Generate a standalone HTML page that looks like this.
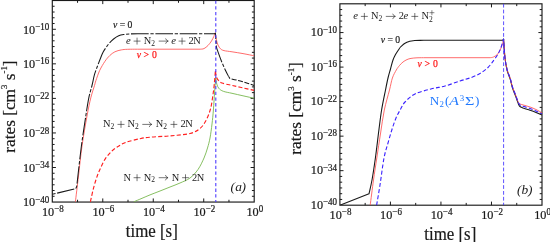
<!DOCTYPE html>
<html><head><meta charset="utf-8"><title>rates</title>
<style>
html,body{margin:0;padding:0;background:#fff;}
body{width:550px;height:242px;overflow:hidden;}
svg{display:block;will-change:transform;}
text{font-family:"Liberation Serif",serif;fill:#1a1a1a;}
.tk{font-size:12.9px;stroke:#1a1a1a;stroke-width:0.22px;}
.sp{font-size:9.5px;}
.ax{font-size:17.4px;stroke:#1a1a1a;stroke-width:0.2px;}
.axs{font-size:8.8px;}
.axx{font-size:17.8px;}
.m{font-size:10.8px;}
.m2{font-size:13.4px;}
.sb{font-size:7.6px;}
.sb2{font-size:9.4px;}
.i{font-style:italic;}
.pl{font-size:13.6px;}
</style></head><body>
<svg width="550" height="242" viewBox="0 0 550 242">
<rect x="0" y="0" width="550" height="242" fill="#fff"/>
<rect x="52.30" y="0.50" width="201.90" height="201.55" fill="none" stroke="#1a1a1a" stroke-width="1.15"/>
<path d="M77.54,202.05 v-2.30 M77.54,0.50 v2.30 M102.77,202.05 v-3.60 M102.77,0.50 v3.60 M128.01,202.05 v-2.30 M128.01,0.50 v2.30 M153.25,202.05 v-3.60 M153.25,0.50 v3.60 M178.49,202.05 v-2.30 M178.49,0.50 v2.30 M203.72,202.05 v-3.60 M203.72,0.50 v3.60 M228.96,202.05 v-2.30 M228.96,0.50 v2.30 M52.30,196.29 h2.30 M254.20,196.29 h-2.30 M52.30,190.53 h2.30 M254.20,190.53 h-2.30 M52.30,184.77 h2.30 M254.20,184.77 h-2.30 M52.30,179.02 h2.30 M254.20,179.02 h-2.30 M52.30,173.26 h2.30 M254.20,173.26 h-2.30 M52.30,167.50 h3.60 M254.20,167.50 h-3.60 M52.30,161.74 h2.30 M254.20,161.74 h-2.30 M52.30,155.98 h2.30 M254.20,155.98 h-2.30 M52.30,150.22 h2.30 M254.20,150.22 h-2.30 M52.30,144.46 h2.30 M254.20,144.46 h-2.30 M52.30,138.71 h2.30 M254.20,138.71 h-2.30 M52.30,132.95 h3.60 M254.20,132.95 h-3.60 M52.30,127.19 h2.30 M254.20,127.19 h-2.30 M52.30,121.43 h2.30 M254.20,121.43 h-2.30 M52.30,115.67 h2.30 M254.20,115.67 h-2.30 M52.30,109.91 h2.30 M254.20,109.91 h-2.30 M52.30,104.15 h2.30 M254.20,104.15 h-2.30 M52.30,98.40 h3.60 M254.20,98.40 h-3.60 M52.30,92.64 h2.30 M254.20,92.64 h-2.30 M52.30,86.88 h2.30 M254.20,86.88 h-2.30 M52.30,81.12 h2.30 M254.20,81.12 h-2.30 M52.30,75.36 h2.30 M254.20,75.36 h-2.30 M52.30,69.60 h2.30 M254.20,69.60 h-2.30 M52.30,63.84 h3.60 M254.20,63.84 h-3.60 M52.30,58.09 h2.30 M254.20,58.09 h-2.30 M52.30,52.33 h2.30 M254.20,52.33 h-2.30 M52.30,46.57 h2.30 M254.20,46.57 h-2.30 M52.30,40.81 h2.30 M254.20,40.81 h-2.30 M52.30,35.05 h2.30 M254.20,35.05 h-2.30 M52.30,29.29 h3.60 M254.20,29.29 h-3.60 M52.30,23.53 h2.30 M254.20,23.53 h-2.30 M52.30,17.78 h2.30 M254.20,17.78 h-2.30 M52.30,12.02 h2.30 M254.20,12.02 h-2.30 M52.30,6.26 h2.30 M254.20,6.26 h-2.30" fill="none" stroke="#1a1a1a" stroke-width="1"/>

<rect x="339.90" y="3.80" width="202.10" height="201.40" fill="none" stroke="#1a1a1a" stroke-width="1.15"/>
<path d="M365.16,205.20 v-2.30 M365.16,3.80 v2.30 M390.42,205.20 v-3.60 M390.42,3.80 v3.60 M415.69,205.20 v-2.30 M415.69,3.80 v2.30 M440.95,205.20 v-3.60 M440.95,3.80 v3.60 M466.21,205.20 v-2.30 M466.21,3.80 v2.30 M491.48,205.20 v-3.60 M491.48,3.80 v3.60 M516.74,205.20 v-2.30 M516.74,3.80 v2.30 M339.90,199.45 h2.30 M542.00,199.45 h-2.30 M339.90,193.69 h2.30 M542.00,193.69 h-2.30 M339.90,187.94 h2.30 M542.00,187.94 h-2.30 M339.90,182.18 h2.30 M542.00,182.18 h-2.30 M339.90,176.43 h2.30 M542.00,176.43 h-2.30 M339.90,170.67 h3.60 M542.00,170.67 h-3.60 M339.90,164.92 h2.30 M542.00,164.92 h-2.30 M339.90,159.17 h2.30 M542.00,159.17 h-2.30 M339.90,153.41 h2.30 M542.00,153.41 h-2.30 M339.90,147.66 h2.30 M542.00,147.66 h-2.30 M339.90,141.90 h2.30 M542.00,141.90 h-2.30 M339.90,136.15 h3.60 M542.00,136.15 h-3.60 M339.90,130.39 h2.30 M542.00,130.39 h-2.30 M339.90,124.64 h2.30 M542.00,124.64 h-2.30 M339.90,118.89 h2.30 M542.00,118.89 h-2.30 M339.90,113.13 h2.30 M542.00,113.13 h-2.30 M339.90,107.38 h2.30 M542.00,107.38 h-2.30 M339.90,101.62 h3.60 M542.00,101.62 h-3.60 M339.90,95.87 h2.30 M542.00,95.87 h-2.30 M339.90,90.11 h2.30 M542.00,90.11 h-2.30 M339.90,84.36 h2.30 M542.00,84.36 h-2.30 M339.90,78.61 h2.30 M542.00,78.61 h-2.30 M339.90,72.85 h2.30 M542.00,72.85 h-2.30 M339.90,67.10 h3.60 M542.00,67.10 h-3.60 M339.90,61.34 h2.30 M542.00,61.34 h-2.30 M339.90,55.59 h2.30 M542.00,55.59 h-2.30 M339.90,49.83 h2.30 M542.00,49.83 h-2.30 M339.90,44.08 h2.30 M542.00,44.08 h-2.30 M339.90,38.33 h2.30 M542.00,38.33 h-2.30 M339.90,32.57 h3.60 M542.00,32.57 h-3.60 M339.90,26.82 h2.30 M542.00,26.82 h-2.30 M339.90,21.06 h2.30 M542.00,21.06 h-2.30 M339.90,15.31 h2.30 M542.00,15.31 h-2.30 M339.90,9.55 h2.30 M542.00,9.55 h-2.30" fill="none" stroke="#1a1a1a" stroke-width="1"/>

<text class="tk" transform="translate(52.90,215.70) scale(0.950,1)" text-anchor="middle">10<tspan class="sp" dy="-3.8">−8</tspan></text>
<text class="tk" transform="translate(103.37,215.70) scale(0.950,1)" text-anchor="middle">10<tspan class="sp" dy="-3.8">−6</tspan></text>
<text class="tk" transform="translate(153.85,215.70) scale(0.950,1)" text-anchor="middle">10<tspan class="sp" dy="-3.8">−4</tspan></text>
<text class="tk" transform="translate(204.32,215.70) scale(0.950,1)" text-anchor="middle">10<tspan class="sp" dy="-3.8">−2</tspan></text>
<text class="tk" transform="translate(254.80,215.70) scale(0.950,1)" text-anchor="middle">10<tspan class="sp" dy="-3.8">0</tspan></text>
<text class="tk" transform="translate(49.30,33.65) scale(0.950,1)" text-anchor="end">10<tspan class="sp" dy="-3.8">−10</tspan></text>
<text class="tk" transform="translate(49.30,68.20) scale(0.950,1)" text-anchor="end">10<tspan class="sp" dy="-3.8">−16</tspan></text>
<text class="tk" transform="translate(49.30,102.76) scale(0.950,1)" text-anchor="end">10<tspan class="sp" dy="-3.8">−22</tspan></text>
<text class="tk" transform="translate(49.30,137.31) scale(0.950,1)" text-anchor="end">10<tspan class="sp" dy="-3.8">−28</tspan></text>
<text class="tk" transform="translate(49.30,171.86) scale(0.950,1)" text-anchor="end">10<tspan class="sp" dy="-3.8">−34</tspan></text>
<text class="tk" transform="translate(49.30,206.41) scale(0.950,1)" text-anchor="end">10<tspan class="sp" dy="-3.8">−40</tspan></text>

<text class="tk" transform="translate(340.50,219.10) scale(0.950,1)" text-anchor="middle">10<tspan class="sp" dy="-3.8">−8</tspan></text>
<text class="tk" transform="translate(391.02,219.10) scale(0.950,1)" text-anchor="middle">10<tspan class="sp" dy="-3.8">−6</tspan></text>
<text class="tk" transform="translate(441.55,219.10) scale(0.950,1)" text-anchor="middle">10<tspan class="sp" dy="-3.8">−4</tspan></text>
<text class="tk" transform="translate(492.08,219.10) scale(0.950,1)" text-anchor="middle">10<tspan class="sp" dy="-3.8">−2</tspan></text>
<text class="tk" transform="translate(542.60,219.10) scale(0.950,1)" text-anchor="middle">10<tspan class="sp" dy="-3.8">0</tspan></text>
<text class="tk" transform="translate(337.10,36.37) scale(0.950,1)" text-anchor="end">10<tspan class="sp" dy="-3.8">−10</tspan></text>
<text class="tk" transform="translate(337.10,70.90) scale(0.950,1)" text-anchor="end">10<tspan class="sp" dy="-3.8">−16</tspan></text>
<text class="tk" transform="translate(337.10,105.42) scale(0.950,1)" text-anchor="end">10<tspan class="sp" dy="-3.8">−22</tspan></text>
<text class="tk" transform="translate(337.10,139.95) scale(0.950,1)" text-anchor="end">10<tspan class="sp" dy="-3.8">−28</tspan></text>
<text class="tk" transform="translate(337.10,174.47) scale(0.950,1)" text-anchor="end">10<tspan class="sp" dy="-3.8">−34</tspan></text>
<text class="tk" transform="translate(337.10,209.00) scale(0.950,1)" text-anchor="end">10<tspan class="sp" dy="-3.8">−40</tspan></text>

<text class="ax axx" x="125.8" y="236.8" textLength="52.0" lengthAdjust="spacingAndGlyphs">time [s]</text>
<text class="ax axx" x="424.3" y="239.6" textLength="52.0" lengthAdjust="spacingAndGlyphs">time [s]</text>
<text class="ax" transform="translate(14.6,152.8) rotate(-90) scale(1,1.02)" text-anchor="start" textLength="92.4" lengthAdjust="spacingAndGlyphs">rates [cm<tspan class="axs" dy="-7">3</tspan><tspan dy="7"> s</tspan><tspan class="axs" dy="-7">-1</tspan><tspan dy="7">]</tspan></text>
<text class="ax" transform="translate(301.1,154.7) rotate(-90) scale(1,1.02)" text-anchor="start" textLength="92.6" lengthAdjust="spacingAndGlyphs">rates [cm<tspan class="axs" dy="-7">3</tspan><tspan dy="7"> s</tspan><tspan class="axs" dy="-7">-1</tspan><tspan dy="7">]</tspan></text>
<clipPath id="ca"><rect x="52.30" y="0.50" width="201.90" height="201.55"/></clipPath>
<clipPath id="cb"><rect x="339.90" y="3.80" width="202.10" height="201.40"/></clipPath>
<g clip-path="url(#ca)" fill="none" stroke-linejoin="round">
<path d="M133.80,201.80 C135.17,201.22 139.30,199.45 142.00,198.30 C144.70,197.15 147.00,196.12 150.00,194.90 C153.00,193.68 156.67,192.32 160.00,191.00 C163.33,189.68 166.67,188.33 170.00,187.00 C173.33,185.67 176.67,184.50 180.00,183.00 C183.33,181.50 187.00,180.25 190.00,178.00 C193.00,175.75 195.67,172.83 198.00,169.50 C200.33,166.17 202.42,161.58 204.00,158.00 C205.58,154.42 206.50,151.33 207.50,148.00 C208.50,144.67 209.25,142.00 210.00,138.00 C210.75,134.00 211.43,128.67 212.00,124.00 C212.57,119.33 212.97,115.33 213.40,110.00 C213.83,104.67 214.22,97.40 214.60,92.00 C214.98,86.60 215.52,80.00 215.70,77.60 L215.70,77.60 C215.88,78.67 216.28,82.22 216.80,84.00 C217.32,85.78 217.72,87.08 218.80,88.30 C219.88,89.52 221.10,90.47 223.30,91.30 C225.50,92.13 228.72,92.55 232.00,93.30 C235.28,94.05 239.30,94.97 243.00,95.80 C246.70,96.63 252.33,97.88 254.20,98.30" stroke="#78b84f" stroke-width="0.9"/>
<path d="M90.40,201.80 C90.93,199.47 92.43,192.18 93.60,187.80 C94.77,183.42 96.23,178.80 97.40,175.50 C98.57,172.20 99.32,170.73 100.60,168.00 C101.88,165.27 103.28,161.87 105.10,159.10 C106.92,156.33 109.35,153.50 111.50,151.40 C113.65,149.30 115.58,148.02 118.00,146.50 C120.42,144.98 122.33,143.60 126.00,142.30 C129.67,141.00 136.00,139.55 140.00,138.70 C144.00,137.85 145.00,137.67 150.00,137.20 C155.00,136.73 163.33,136.52 170.00,135.90 C176.67,135.28 185.00,134.73 190.00,133.50 C195.00,132.27 197.33,130.67 200.00,128.50 C202.67,126.33 204.25,123.75 206.00,120.50 C207.75,117.25 209.37,113.08 210.50,109.00 C211.63,104.92 212.17,100.17 212.80,96.00 C213.43,91.83 213.87,88.25 214.30,84.00 C214.73,79.75 215.22,72.75 215.40,70.50 L215.40,70.50 C215.53,71.42 215.80,74.48 216.20,76.00 C216.60,77.52 216.83,78.43 217.80,79.60 C218.77,80.77 219.63,82.03 222.00,83.00 C224.37,83.97 228.50,84.58 232.00,85.40 C235.50,86.22 239.30,87.07 243.00,87.90 C246.70,88.73 252.33,89.98 254.20,90.40" stroke="#ff2020" stroke-width="1.15" stroke-dasharray="4 2.2"/>
<path d="M75.40,201.80 C75.92,197.50 77.40,185.30 78.50,176.00 C79.60,166.70 80.58,156.00 82.00,146.00 C83.42,136.00 85.53,124.03 87.00,116.00 C88.47,107.97 89.55,102.88 90.80,97.80 C92.05,92.72 93.65,88.37 94.50,85.50 C95.35,82.63 95.03,83.12 95.90,80.60 C96.77,78.08 98.20,73.60 99.70,70.40 C101.20,67.20 103.23,63.87 104.90,61.40 C106.57,58.93 108.03,57.20 109.70,55.60 C111.37,54.00 112.97,52.75 114.90,51.80 C116.83,50.85 119.17,50.32 121.30,49.90 C123.43,49.48 124.58,49.42 127.70,49.30 C130.82,49.18 137.95,49.22 140.00,49.20 L140.00,49.20 L200.00,49.20 L200.00,49.20 C200.67,49.10 202.67,49.22 204.00,48.60 C205.33,47.98 206.75,46.77 208.00,45.50 C209.25,44.23 210.53,42.50 211.50,41.00 C212.47,39.50 213.18,37.87 213.80,36.50 C214.42,35.13 214.97,33.42 215.20,32.80 L215.20,32.80 C215.37,33.83 215.73,36.97 216.20,39.00 C216.67,41.03 217.28,43.37 218.00,45.00 C218.72,46.63 219.50,47.87 220.50,48.80 C221.50,49.73 222.08,50.10 224.00,50.60 C225.92,51.10 228.83,51.30 232.00,51.80 C235.17,52.30 239.30,52.93 243.00,53.60 C246.70,54.27 252.33,55.43 254.20,55.80" stroke="#ff5252" stroke-width="0.85"/>
<path d="M52.30,194.30 L75.50,188.70 L75.50,188.70 C75.67,188.45 76.25,187.98 76.50,187.20 C76.75,186.42 76.77,185.87 77.00,184.00 C77.23,182.13 77.17,182.33 77.90,176.00 C78.63,169.67 80.08,156.00 81.40,146.00 C82.72,136.00 84.57,124.03 85.80,116.00 C87.03,107.97 87.77,102.88 88.80,97.80 C89.83,92.72 91.03,89.43 92.00,85.50 C92.97,81.57 93.63,77.57 94.60,74.20 C95.57,70.83 96.80,68.00 97.80,65.30 C98.80,62.60 99.68,60.25 100.60,58.00 C101.52,55.75 101.98,54.12 103.30,51.80 C104.62,49.48 106.78,46.23 108.50,44.10 C110.22,41.97 111.90,40.38 113.60,39.00 C115.30,37.62 117.00,36.55 118.70,35.80 C120.40,35.05 121.87,34.82 123.80,34.50 C125.73,34.18 127.60,34.02 130.30,33.90 C133.00,33.78 138.38,33.82 140.00,33.80 L140.00,33.80 L214.60,33.80 L215.40,33.00 L215.90,40.00 L216.60,48.00 L216.60,48.00 C217.33,50.00 219.55,56.33 221.00,60.00 C222.45,63.67 224.03,67.25 225.30,70.00 C226.57,72.75 228.05,75.42 228.60,76.50" stroke="#1a1a1a" stroke-width="1.05" stroke-dasharray="17.6 1.7 3.3 1.7" stroke-dashoffset="19.3"/>
<path d="M228.60,76.50 C228.83,76.85 229.77,78.25 230.00,78.60 L230.00,78.60 C231.33,78.90 235.33,79.72 238.00,80.40 C240.67,81.08 243.30,81.87 246.00,82.70 C248.70,83.53 252.83,84.95 254.20,85.40" stroke="#1a1a1a" stroke-width="1.05" stroke-dasharray="5 1.6" stroke-dashoffset="2.4"/>
<path d="M215.8,0.5 V202" stroke="#4c3aff" stroke-width="1.1" stroke-dasharray="3.3 2.4"/>
</g>
<g clip-path="url(#cb)" fill="none" stroke-linejoin="round">
<path d="M339.90,205.20 L369.00,193.80 L369.00,193.80 C369.50,191.50 370.93,185.97 372.00,180.00 C373.07,174.03 374.25,166.33 375.40,158.00 C376.55,149.67 377.87,138.00 378.90,130.00 C379.93,122.00 380.50,116.67 381.60,110.00 C382.70,103.33 384.43,95.33 385.50,90.00 C386.57,84.67 387.17,81.50 388.00,78.00 C388.83,74.50 389.67,72.00 390.50,69.00 C391.33,66.00 392.12,62.50 393.00,60.00 C393.88,57.50 394.90,55.67 395.80,54.00 C396.70,52.33 397.62,51.17 398.40,50.00 C399.18,48.83 399.75,47.87 400.50,47.00 C401.25,46.13 402.07,45.47 402.90,44.80 C403.73,44.13 404.58,43.52 405.50,43.00 C406.42,42.48 407.40,42.04 408.40,41.70 C409.40,41.36 410.45,41.14 411.50,40.95 C412.55,40.76 413.28,40.65 414.70,40.55 C416.12,40.45 418.28,40.39 420.00,40.35 C421.72,40.31 424.17,40.31 425.00,40.30 L425.00,40.30 L502.60,40.30 L503.60,39.20 L503.60,39.20 C503.83,42.33 504.40,52.78 505.00,58.00 C505.60,63.22 506.33,67.00 507.20,70.50 C508.07,74.00 509.37,76.25 510.20,79.00 C511.03,81.75 511.63,85.00 512.20,87.00 C512.77,89.00 513.03,89.50 513.60,91.00 C514.17,92.50 515.00,94.42 515.60,96.00 C516.20,97.58 516.70,99.10 517.20,100.50 C517.70,101.90 518.08,103.35 518.60,104.40 C519.12,105.45 519.40,106.15 520.30,106.80 C521.20,107.45 522.38,107.73 524.00,108.30 C525.62,108.87 528.00,109.52 530.00,110.20 C532.00,110.88 534.00,111.60 536.00,112.40 C538.00,113.20 541.00,114.57 542.00,115.00" stroke="#1a1a1a" stroke-width="1.1"/>
<path d="M370.20,205.20 C370.75,201.00 372.40,187.87 373.50,180.00 C374.60,172.13 375.62,165.83 376.80,158.00 C377.98,150.17 379.35,141.00 380.60,133.00 C381.85,125.00 382.82,117.17 384.30,110.00 C385.78,102.83 388.15,95.33 389.50,90.00 C390.85,84.67 391.27,81.33 392.40,78.00 C393.53,74.67 395.12,72.08 396.30,70.00 C397.48,67.92 398.38,66.83 399.50,65.50 C400.62,64.17 401.75,62.98 403.00,62.00 C404.25,61.02 405.67,60.20 407.00,59.60 C408.33,59.00 409.33,58.70 411.00,58.40 C412.67,58.10 414.67,57.92 417.00,57.80 C419.33,57.68 423.67,57.72 425.00,57.70 L425.00,57.70 L490.00,57.70 L490.00,57.70 C490.58,57.58 492.17,57.65 493.50,57.00 C494.83,56.35 496.75,55.30 498.00,53.80 C499.25,52.30 500.23,49.72 501.00,48.00 C501.77,46.28 502.17,45.00 502.60,43.50 C503.03,42.00 503.43,39.75 503.60,39.00 L503.60,39.20 C503.83,42.33 504.40,52.87 505.00,58.00 C505.60,63.13 506.33,66.62 507.20,70.00 C508.07,73.38 509.37,75.63 510.20,78.30 C511.03,80.97 511.63,84.05 512.20,86.00 C512.77,87.95 513.03,88.50 513.60,90.00 C514.17,91.50 514.97,93.33 515.60,95.00 C516.23,96.67 516.90,98.73 517.40,100.00 C517.90,101.27 518.13,101.93 518.60,102.60 C519.07,103.27 519.30,103.57 520.20,104.00 C521.10,104.43 522.37,104.70 524.00,105.20 C525.63,105.70 528.00,106.28 530.00,107.00 C532.00,107.72 534.00,108.53 536.00,109.50 C538.00,110.47 541.00,112.25 542.00,112.80" stroke="#ff5252" stroke-width="0.85"/>
<path d="M376.60,205.20 C377.17,201.83 378.77,192.87 380.00,185.00 C381.23,177.13 382.67,165.00 384.00,158.00 C385.33,151.00 386.70,147.67 388.00,143.00 C389.30,138.33 390.47,134.17 391.80,130.00 C393.13,125.83 394.57,121.42 396.00,118.00 C397.43,114.58 398.90,112.17 400.40,109.50 C401.90,106.83 402.57,104.58 405.00,102.00 C407.43,99.42 410.67,96.17 415.00,94.00 C419.33,91.83 426.00,90.33 431.00,89.00 C436.00,87.67 440.17,87.33 445.00,86.00 C449.83,84.67 455.67,82.40 460.00,81.00 C464.33,79.60 467.67,78.85 471.00,77.60 C474.33,76.35 477.17,75.18 480.00,73.50 C482.83,71.82 485.67,69.75 488.00,67.50 C490.33,65.25 492.33,62.25 494.00,60.00 C495.67,57.75 496.87,56.00 498.00,54.00 C499.13,52.00 499.87,50.50 500.80,48.00 C501.73,45.50 503.13,40.50 503.60,39.00 L503.60,39.20 C503.83,42.33 504.40,52.87 505.00,58.00 C505.60,63.13 506.33,66.62 507.20,70.00 C508.07,73.38 509.37,75.63 510.20,78.30 C511.03,80.97 511.63,84.05 512.20,86.00 C512.77,87.95 513.03,88.50 513.60,90.00 C514.17,91.50 514.97,93.33 515.60,95.00 C516.23,96.67 516.87,98.60 517.40,100.00 C517.93,101.40 518.30,102.53 518.80,103.40 C519.30,104.27 519.53,104.67 520.40,105.20 C521.27,105.73 522.40,106.05 524.00,106.60 C525.60,107.15 528.00,107.78 530.00,108.50 C532.00,109.22 534.00,110.02 536.00,110.90 C538.00,111.78 541.00,113.32 542.00,113.80" stroke="#3a22ff" stroke-width="1.1" stroke-dasharray="4 2.2"/>
<path d="M503.6,3.8 V205.2" stroke="#4030ff" stroke-width="0.85" stroke-dasharray="3.75 2.1"/>
</g>
<text><tspan x="125.90" y="43.90" font-size="10.70" font-style="italic">e</tspan><tspan x="143.65" y="43.90" font-size="10.40">N</tspan><tspan x="151.20" y="45.80" font-size="7.50">2</tspan><tspan x="171.30" y="43.90" font-size="10.70" font-style="italic">e</tspan><tspan x="188.60" y="43.90" font-size="10.40">2</tspan><tspan x="193.35" y="43.90" font-size="10.40">N</tspan></text>
<path d="M133.60,41.10 H140.50 M137.05,37.65 V44.55" stroke="#222" stroke-width="0.62" fill="none"/>
<path d="M159.10,41.10 H167.90 M165.70,38.80 Q166.30,40.60 168.20,41.10 Q166.30,41.60 165.70,43.40" stroke="#222" stroke-width="0.62" fill="none" stroke-linecap="round"/>
<path d="M178.60,41.10 H185.50 M182.05,37.65 V44.55" stroke="#222" stroke-width="0.62" fill="none"/>
<text><tspan x="103.05" y="127.20" font-size="10.40">N</tspan><tspan x="110.50" y="129.10" font-size="7.50">2</tspan><tspan x="127.55" y="127.20" font-size="10.40">N</tspan><tspan x="135.10" y="129.10" font-size="7.50">2</tspan><tspan x="155.75" y="127.20" font-size="10.40">N</tspan><tspan x="163.30" y="129.10" font-size="7.50">2</tspan><tspan x="180.60" y="127.20" font-size="10.40">2</tspan><tspan x="185.35" y="127.20" font-size="10.40">N</tspan></text>
<path d="M117.50,124.40 H124.50 M121.00,120.90 V127.90" stroke="#222" stroke-width="0.62" fill="none"/>
<path d="M142.70,124.40 H151.50 M149.30,122.10 Q149.90,123.90 151.80,124.40 Q149.90,124.90 149.30,126.70" stroke="#222" stroke-width="0.62" fill="none" stroke-linecap="round"/>
<path d="M170.50,124.40 H177.30 M173.90,121.00 V127.80" stroke="#222" stroke-width="0.62" fill="none"/>
<text><tspan x="123.45" y="180.50" font-size="10.40">N</tspan><tspan x="143.65" y="180.50" font-size="10.40">N</tspan><tspan x="151.20" y="182.40" font-size="7.50">2</tspan><tspan x="171.65" y="180.50" font-size="10.40">N</tspan><tspan x="192.00" y="180.50" font-size="10.40">2</tspan><tspan x="196.65" y="180.50" font-size="10.40">N</tspan></text>
<path d="M133.60,177.70 H140.50 M137.05,174.25 V181.15" stroke="#222" stroke-width="0.62" fill="none"/>
<path d="M159.10,177.70 H167.70 M165.50,175.40 Q166.10,177.20 168.00,177.70 Q166.10,178.20 165.50,180.00" stroke="#222" stroke-width="0.62" fill="none" stroke-linecap="round"/>
<path d="M182.10,177.70 H188.90 M185.50,174.30 V181.10" stroke="#222" stroke-width="0.62" fill="none"/>
<text><tspan x="353.30" y="18.90" font-size="10.70" font-style="italic">e</tspan><tspan x="371.05" y="18.90" font-size="10.40">N</tspan><tspan x="378.50" y="20.80" font-size="7.50">2</tspan><tspan x="398.80" y="18.90" font-size="10.40">2</tspan><tspan x="403.50" y="18.90" font-size="10.70" font-style="italic">e</tspan><tspan x="421.45" y="18.90" font-size="10.40">N</tspan><tspan x="428.90" y="21.80" font-size="7.50">2</tspan></text>
<path d="M360.90,16.40 H367.80 M364.35,12.95 V19.85" stroke="#222" stroke-width="0.62" fill="none"/>
<path d="M386.20,16.40 H395.00 M392.80,14.10 Q393.40,15.90 395.30,16.40 Q393.40,16.90 392.80,18.70" stroke="#222" stroke-width="0.62" fill="none" stroke-linecap="round"/>
<path d="M411.40,16.40 H418.20 M414.80,13.00 V19.80" stroke="#222" stroke-width="0.62" fill="none"/>
<path d="M429.40,12.70 H434.40 M431.90,10.20 V15.20" stroke="#222" stroke-width="0.55" fill="none"/>
<text stroke="#222" stroke-width="0.2"><tspan x="112.90" y="28.40" font-size="9.70" font-style="italic">v</tspan><tspan x="119.80" y="28.40" font-size="9.70">=</tspan><tspan x="127.50" y="28.40" font-size="9.70">0</tspan></text>
<text style="fill:#ff2020" stroke="#ff2020" stroke-width="0.25"><tspan x="136.70" y="57.90" font-size="9.70" font-style="italic">v</tspan><tspan x="143.50" y="57.90" font-size="9.70">&gt;</tspan><tspan x="152.10" y="57.90" font-size="9.70">0</tspan></text>
<text stroke="#222" stroke-width="0.2"><tspan x="380.80" y="43.20" font-size="9.70" font-style="italic">v</tspan><tspan x="387.40" y="43.20" font-size="9.70">=</tspan><tspan x="395.30" y="43.20" font-size="9.70">0</tspan></text>
<text style="fill:#ff2020" stroke="#ff2020" stroke-width="0.25"><tspan x="417.60" y="67.10" font-size="9.70" font-style="italic">v</tspan><tspan x="424.40" y="67.10" font-size="9.70">&gt;</tspan><tspan x="433.00" y="67.10" font-size="9.70">0</tspan></text>
<text style="fill:#2079ff"><tspan x="429.70" y="104.90" font-size="13.20">N</tspan><tspan x="439.60" y="106.60" font-size="8.90">2</tspan><tspan x="444.90" y="104.90" font-size="13.20">(</tspan><tspan x="459.80" y="101.10" font-size="8.90">3</tspan><tspan x="474.90" y="104.90" font-size="13.20">)</tspan></text>
<text transform="translate(449.3,104.9) scale(1.2,1)" font-size="13.2" font-style="italic" style="fill:#2079ff">A</text>
<text transform="translate(465.1,104.9) scale(1.22,1)" font-size="13.2" style="fill:#2079ff">Σ</text>
<text><tspan x="230.60" y="191.00" font-size="13.40" font-style="italic">(</tspan><tspan x="235.20" y="191.00" font-size="13.40" font-style="italic">a</tspan><tspan x="241.60" y="191.00" font-size="13.40" font-style="italic">)</tspan></text>
<text><tspan x="517.00" y="193.70" font-size="13.40" font-style="italic">(</tspan><tspan x="521.60" y="193.70" font-size="13.40" font-style="italic">b</tspan><tspan x="527.90" y="193.70" font-size="13.40" font-style="italic">)</tspan></text>
</svg>
</body></html>
